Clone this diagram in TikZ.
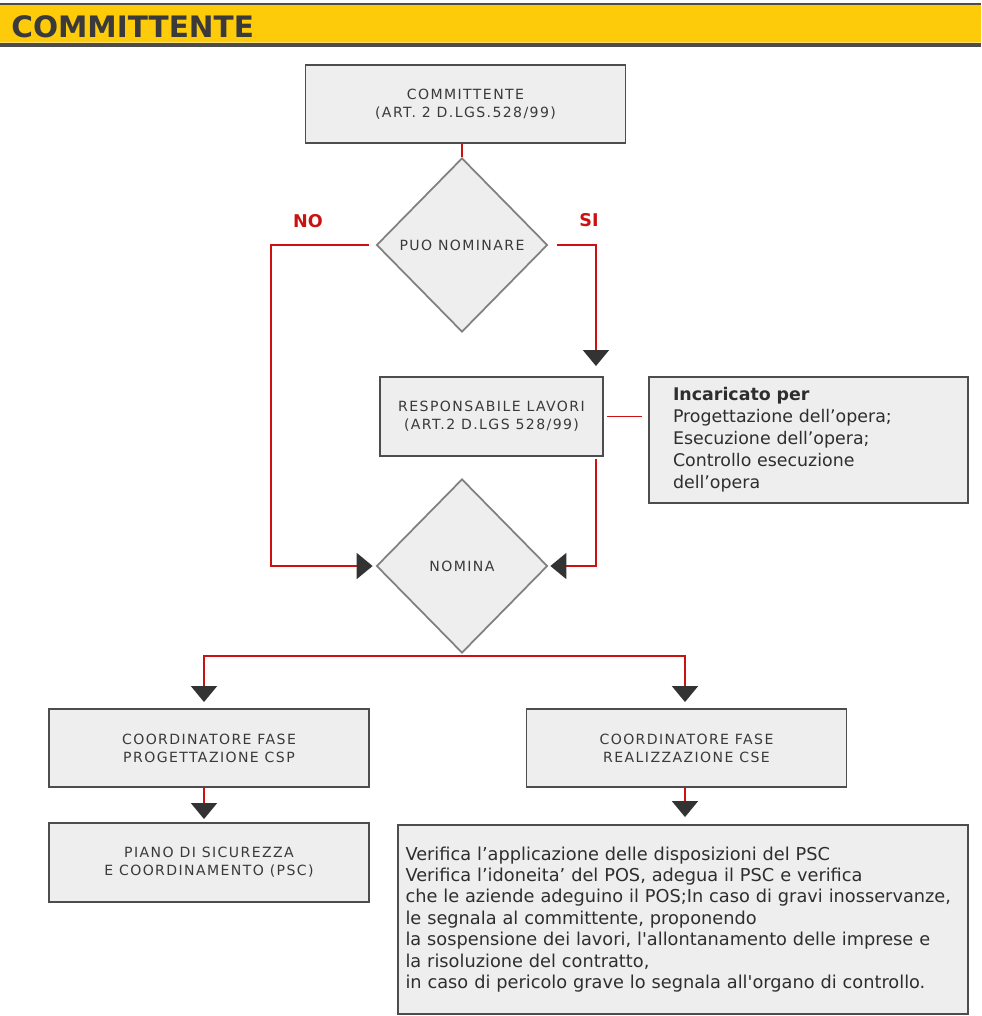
\documentclass[tikz,border=0pt]{standalone}
\usepackage{fontspec}
\setmainfont{DejaVu Sans}
\newfontfamily\pixfont[LetterSpace=10]{DejaVu Sans}
\usepackage{tikz}
\usetikzlibrary{shapes.geometric,arrows.meta,positioning}
\tikzstyle{greybox}=[rectangle, minimum width=6.4cm, minimum height=1.56cm, draw=boxborder, line width=1.1pt, fill=boxfill, align=center, text=labelgrey, font=\pixfont\fontsize{8}{10.2}\selectfont]
\tikzstyle{decision}=[diamond, minimum width=3.42cm, minimum height=3.48cm, inner sep=0pt, draw=diamondborder, line width=1pt, fill=boxfill, text=labelgrey, font=\pixfont\fontsize{8}{10.2}\selectfont]
\tikzstyle{notebox}=[rectangle, draw=boxborder, line width=1.1pt, fill=boxfill, align=left, text=notegrey]
\tikzstyle{answer}=[text=flowred, font=\bfseries\fontsize{10}{12}\selectfont]
\tikzstyle{flow}=[draw=flowred, line width=1.1pt]
\tikzstyle{flowarrow}=[flow, -{Triangle[width=0.52cm,length=0.32cm,color=tipgrey]}]
\definecolor{boxfill}{HTML}{EEEEEE}
\definecolor{boxborder}{HTML}{4D4D4D}
\definecolor{diamondborder}{HTML}{808080}
\definecolor{labelgrey}{HTML}{3A3A3A}
\definecolor{notegrey}{HTML}{2E2E2E}
\definecolor{flowred}{HTML}{CC1111}
\definecolor{tipgrey}{HTML}{333333}
\definecolor{bandyellow}{HTML}{FDCB0A}
\definecolor{banddark}{HTML}{4E4B4B}
\definecolor{titlegrey}{HTML}{3A3A3C}

\begin{document}
\begin{tikzpicture}

\useasboundingbox (0,0) rectangle (19.62,-20.32);

% title band
\fill[banddark] (0,-0.06) rectangle (19.62,-0.10);
\fill[bandyellow] (0,-0.10) rectangle (19.62,-0.84);
\fill[bandyellow!60] (0,-0.84) rectangle (19.62,-0.86);
\fill[banddark] (0,-0.86) rectangle (19.62,-0.94);
\node[anchor=west, inner sep=0pt, text=titlegrey, font=\bfseries\fontsize{16.8}{18}\selectfont](title) at (0.22,-0.53){COMMITTENTE};

\node[greybox](comm) at (9.31,-2.08){COMMITTENTE\\(ART. 2 D.LGS.528/99)};
\node[decision](puo)[below of = comm, xshift=-0.07cm, yshift=-1.82cm]{PUO NOMINARE};
\node[answer](no)[left of = puo, xshift=-2.08cm, yshift=0.48cm]{NO};
\node[answer](si)[right of = puo, xshift=1.54cm, yshift=0.50cm]{SI};
\node[greybox, minimum width=4.46cm, minimum height=1.58cm](resp)[below of = puo, xshift=0.59cm, yshift=-2.43cm]{RESPONSABILE LAVORI\\(ART.2 D.LGS 528/99)};
\node[notebox, minimum height=2.52cm, text width=5.42cm, inner xsep=0.48cm, font=\fontsize{9.9}{12.5}\selectfont](inc)[right of = resp, xshift=5.34cm, yshift=-0.47cm]{\textbf{Incaricato per}\\Progettazione dell’opera;\\Esecuzione dell’opera;\\Controllo esecuzione\\dell’opera};
\node[decision](nomina)[below of = puo, yshift=-5.42cm]{NOMINA};
\node[greybox](csp)[below of = nomina, xshift=-5.06cm, yshift=-2.64cm]{COORDINATORE FASE\\PROGETTAZIONE CSP};
\node[greybox](cse)[right of = csp, xshift=8.55cm]{COORDINATORE FASE\\REALIZZAZIONE CSE};
\node[greybox, minimum height=1.58cm](psc)[below of = csp, yshift=-1.29cm]{PIANO DI SICUREZZA\\E COORDINAMENTO (PSC)};
\node[notebox, minimum height=3.78cm, text width=11.1cm, inner xsep=0.15cm, font={\hyphenpenalty=10000 \fontsize{10.1}{12.2}\selectfont}](big)[below of = cse, xshift=-0.07cm, yshift=-2.43cm]{Verifica l’applicazione delle disposizioni del PSC\\Verifica l’idoneita’ del POS, adegua il PSC e verifica\\che le aziende adeguino il POS;In caso di gravi inosservanze,\\le segnala al committente, proponendo\\la sospensione dei lavori, l\textquotesingle allontanamento delle imprese e\\la risoluzione del contratto,\\in caso di pericolo grave lo segnala all\textquotesingle organo di controllo.};

\path[flow] (puo.north |- comm.south) -- (puo.north);
\path[flowarrow] ([xshift=-0.14cm]puo.west) -- ++(-1.96cm,0) |- ([xshift=-0.06cm]nomina.west);
\path[flowarrow] ([xshift=0.18cm]puo.east) -| ([xshift=-0.16cm,yshift=0.2cm]resp.north east);
\path[flow] ([xshift=0.06cm]resp.east) -- ([xshift=-0.12cm]resp.east -| inc.west);
\path[flowarrow] ([xshift=-0.16cm,yshift=-0.04cm]resp.south east) |- ([xshift=0.04cm]nomina.east);
\path[flowarrow] ([yshift=-0.04cm]nomina.south) -| ([xshift=-0.1cm,yshift=0.12cm]csp.north);
\path[flowarrow] ([yshift=-0.04cm]nomina.south) -| ([xshift=-0.03cm,yshift=0.12cm]cse.north);
\path[flowarrow] ([xshift=-0.1cm]csp.south) -- ([xshift=-0.1cm,yshift=0.06cm]psc.north);
\path[flowarrow] ([xshift=-0.03cm]cse.south) -- ([xshift=-0.03cm,yshift=0.14cm]cse.south |- big.north);

\end{tikzpicture}
\end{document}
